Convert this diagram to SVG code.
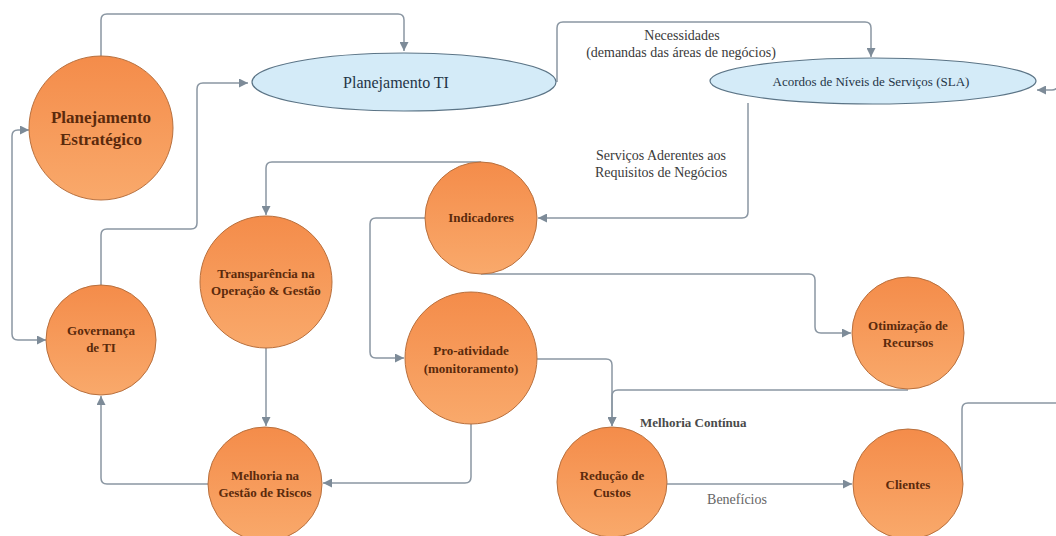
<svg xmlns="http://www.w3.org/2000/svg" width="1056" height="536" viewBox="0 0 1056 536">
<defs>
<linearGradient id="og" x1="0" y1="0" x2="0" y2="1">
<stop offset="0" stop-color="#f48c4a"/>
<stop offset="1" stop-color="#f9a96b"/>
</linearGradient>
<marker id="ar2" viewBox="0 0 10 10" refX="10" refY="5" markerWidth="9" markerHeight="9" markerUnits="userSpaceOnUse" orient="auto-start-reverse">
<path d="M0,0 L10,5 L0,10 z" fill="#7d8b98"/>
</marker>
</defs>
<style>
.n{fill:url(#og);stroke:#b8703e;stroke-width:1}
.e{fill:#d4ebf8;stroke:#5b7486;stroke-width:1.2}
.t{font-family:"Liberation Serif",serif;font-weight:bold;font-size:13px;fill:#5b2a0c;text-anchor:middle}
.tb{font-family:"Liberation Serif",serif;font-size:16px;fill:#1f3446;text-anchor:middle}
.ts{font-family:"Liberation Serif",serif;font-size:13px;fill:#1f3446;text-anchor:middle}
.l{font-family:"Liberation Serif",serif;font-size:14px;fill:#3a3a3a}
.c{fill:none;stroke:#8a96a2;stroke-width:1.5;marker-end:url(#ar2)}
</style>
<g id="connectors">
<path class="c" d="M101,56 V20 Q101,14 107,14 H398 Q404,14 404,20 V51"/>
<path class="c" d="M101,285 V235 Q101,229 107,229 H191 Q197,229 197,223 V89 Q197,83 203,83 H248"/>
<path class="c" d="M46,340 H18 Q12,340 12,334 V136 Q12,130 18,130 H29" marker-start="url(#ar2)"/>
<path class="c" d="M481,162 H272 Q266,162 266,168 V215"/>
<path class="c" d="M266,348 V426"/>
<path class="c" d="M208,484 H107 Q101,484 101,478 V396"/>
<path class="c" d="M471,424 V477 Q471,483 465,483 H323"/>
<path class="c" d="M557,82 V28 Q557,22 563,22 H865 Q871,22 871,28 V57"/>
<path class="c" d="M748,103 V212 Q748,218 742,218 H538"/>
<path class="c" d="M425,218 H376 Q370,218 370,224 V352 Q370,358 376,358 H404"/>
<path class="c" d="M481,274 H809 Q815,274 815,280 V327 Q815,333 821,333 H851"/>
<path class="c" d="M908,390 H618 Q612,390 612,396 V426"/>
<path class="c" d="M537,359 H606 Q612,359 612,365 V426"/>
<path class="c" d="M667,484 H852"/>
<path class="c" d="M962,484 V409 Q962,403 968,403 H1090 V70 H1064 Q1058,70 1058,76 V84 Q1058,90 1052,90 H1037"/>
</g>
<g id="planejamento-estrategico">
<circle class="n" cx="101" cy="128" r="72"/>
<text class="t" style="font-size:17px" x="101" y="123">Planejamento</text>
<text class="t" style="font-size:17px" x="101" y="145">Estratégico</text>
</g>
<g id="planejamento-ti">
<ellipse class="e" cx="404" cy="82" rx="152" ry="29"/>
<text class="tb" x="396" y="88">Planejamento TI</text>
</g>
<g id="sla">
<ellipse class="e" cx="873" cy="81" rx="163" ry="23"/>
<text class="ts" x="871" y="86">Acordos de Níveis de Serviços (SLA)</text>
</g>
<g id="governanca">
<circle class="n" cx="101" cy="340" r="55"/>
<text class="t" x="101" y="335">Governança</text>
<text class="t" x="101" y="352">de TI</text>
</g>
<g id="transparencia">
<circle class="n" cx="266" cy="282" r="66"/>
<text class="t" x="266" y="278">Transparência na</text>
<text class="t" x="266" y="295">Operação &amp; Gestão</text>
</g>
<g id="melhoria-riscos">
<circle class="n" cx="265" cy="484" r="57"/>
<text class="t" x="265" y="480">Melhoria na</text>
<text class="t" x="265" y="497">Gestão de Riscos</text>
</g>
<g id="indicadores">
<circle class="n" cx="481" cy="218" r="56"/>
<text class="t" x="481" y="222">Indicadores</text>
</g>
<g id="pro-atividade">
<circle class="n" cx="471" cy="358" r="66"/>
<text class="t" x="471" y="355">Pro-atividade</text>
<text class="t" x="471" y="373">(monitoramento)</text>
</g>
<g id="otimizacao">
<circle class="n" cx="908" cy="333" r="56"/>
<text class="t" x="908" y="330">Otimização de</text>
<text class="t" x="908" y="347">Recursos</text>
</g>
<g id="reducao">
<circle class="n" cx="612" cy="482" r="55"/>
<text class="t" x="612" y="480">Redução de</text>
<text class="t" x="612" y="497">Custos</text>
</g>
<g id="clientes">
<circle class="n" cx="908" cy="484" r="55"/>
<text class="t" x="908" y="489">Clientes</text>
</g>
<g id="labels">
<text class="l" x="682" y="40" text-anchor="middle">Necessidades</text>
<text class="l" x="681" y="57" text-anchor="middle">(demandas das áreas de negócios)</text>
<text class="l" x="661" y="160" text-anchor="middle">Serviços Aderentes aos</text>
<text class="l" x="661" y="177" text-anchor="middle">Requisitos de Negócios</text>
<text class="l" x="640" y="427" style="font-weight:bold;fill:#4a4a4a;font-size:13px">Melhoria Contínua</text>
<text class="l" x="737" y="504" text-anchor="middle" style="fill:#666">Benefícios</text>
</g>
</svg>
